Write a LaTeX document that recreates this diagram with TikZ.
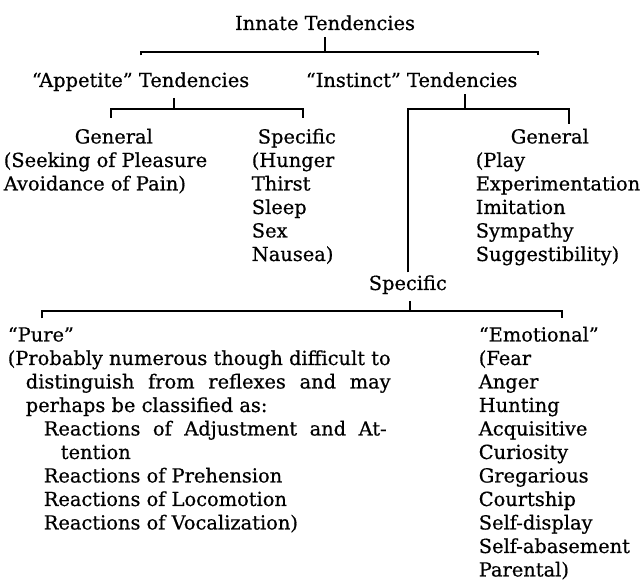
\documentclass[tikz,border=0pt]{standalone}
\usepackage{fontspec}
\setmainfont{DejaVu Serif}[RawFeature={embolden=0.6}]

\newcommand{\col}[1]{\begin{tabular}[t]{@{}l@{}}#1\end{tabular}}
\newlength{\purewd}

\begin{document}
\begin{tikzpicture}[x=0.5pt,y=-0.5pt,line width=0.8pt,
    every node/.style={inner sep=0pt,font=\fontsize{9.7}{11.75}\selectfont},
    head/.style={anchor=base west}]
        \useasboundingbox (0,0) rectangle (644,587);
        \node [anchor=base] (innate) at (325,30) {Innate Tendencies};

        \node [head] (appet) at (31,87) {``Appetite'' Tendencies};
        \node [head] (inst) at (305,87) {``Instinct'' Tendencies};

        \node [head] (genA) at (74,143.5) {General};
        \node [head] (genAl) at (3,167) {\col{(Seeking of Pleasure\\Avoidance of Pain)}};
        \node [head] (specA) at (257,143.5) {Specific};
        \node [head] (specAl) at (251,167) {\col{(Hunger\\Thirst\\Sleep\\Sex\\Nausea)}};
        \node [head] (genI) at (510,143.5) {General};
        \node [head] (genIl) at (475,167) {\col{(Play\\Experimentation\\Imitation\\Sympathy\\Suggestibility)}};
        \node [head] (specI) at (368,290) {Specific};

        \node [head] (pure) at (7,341.5) {``Pure''};
        \node [head] (purel) at (7,365) {\settowidth{\purewd}{(Probably numerous though difficult to}%
            \col{(Probably numerous though difficult to\\
            \hspace*{9pt}\makebox[\dimexpr\purewd-9pt][s]{distinguish from reflexes and may}\\
            \hspace*{9pt}perhaps be classified as:\\
            \hspace*{18pt}\makebox[\dimexpr\purewd-20pt][s]{Reactions of Adjustment and At-}\\
            \hspace*{26.5pt}tention\\
            \hspace*{18pt}Reactions of Prehension\\
            \hspace*{18pt}Reactions of Locomotion\\
            \hspace*{18pt}Reactions of Vocalization)}};
        \node [head] (emot) at (478,341.5) {``Emotional''};
        \node [head] (emotl) at (478,365) {\col{(Fear\\Anger\\Hunting\\Acquisitive\\Curiosity\\Gregarious\\Courtship\\Self-display\\Self-abasement\\Parental)}};

        % brackets
        \coordinate (b1) at (325,52);
        \coordinate (b1l) at (141,52);
        \coordinate (b1r) at (538,52);
        \draw ([yshift=-3pt]innate.south) -- (b1);
        \draw ([yshift=8pt]appet.north -| b1l) -- (b1l) -- (b1r) -- ([yshift=8pt]inst.north -| b1r);

        \coordinate (b2) at (174,109);
        \coordinate (b2l) at (111,109);
        \coordinate (b2r) at (303,109);
        \draw ([yshift=-3pt]appet.south -| b2) -- (b2);
        \draw ([yshift=5pt]genA.north -| b2l) -- (b2l) -- (b2r) -- ([yshift=5pt]specA.north -| b2r);

        \coordinate (b3) at (465,109);
        \coordinate (b3l) at (408,109);
        \coordinate (b3r) at (569,109);
        \draw ([yshift=-3pt]inst.south -| b3) -- (b3);
        \draw ([yshift=1pt]specI.north -| b3l) -- (b3l) -- (b3r) -- ([yshift=2pt]genI.north -| b3r);

        \coordinate (b4) at (410,311);
        \coordinate (b4l) at (42,311);
        \coordinate (b4r) at (562,311);
        \draw ([yshift=-3pt]specI.south -| b4) -- (b4);
        \draw ([yshift=4pt]pure.north -| b4l) -- (b4l) -- (b4r) -- ([yshift=4pt]emot.north -| b4r);
    \end{tikzpicture}
\end{document}
